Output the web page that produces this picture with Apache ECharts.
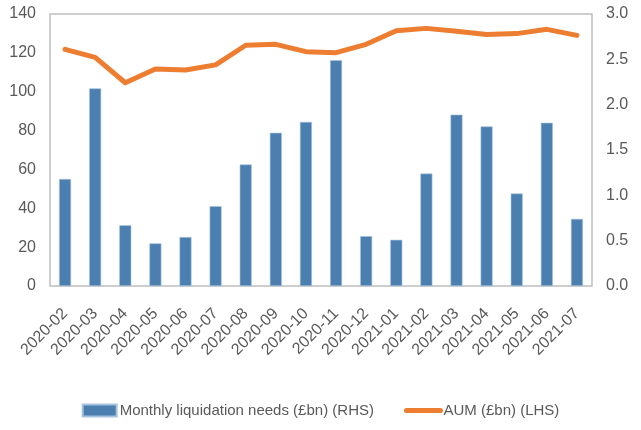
<!DOCTYPE html>
<html>
<head>
<meta charset="utf-8">
<script src="https://cdn.jsdelivr.net/npm/echarts@6/dist/echarts.min.js"></script>
<style>
  html, body { margin: 0; padding: 0; background: #fff; }
  #chart { width: 641px; height: 430px; }
</style>
</head>
<body>
<div id="chart"></div>
<script>
// months on the category axis
const months = [
  '2020-02', '2020-03', '2020-04', '2020-05', '2020-06', '2020-07', '2020-08', '2020-09', '2020-10',
  '2020-11', '2020-12', '2021-01', '2021-02', '2021-03', '2021-04', '2021-05', '2021-06', '2021-07'
];
// monthly liquidation needs, £bn (right axis)
const liquidationNeeds = [
  1.18, 2.18, 0.67, 0.47, 0.54, 0.88, 1.34, 1.69, 1.81,
  2.49, 0.55, 0.51, 1.24, 1.89, 1.76, 1.02, 1.80, 0.74
];
// AUM, £bn (left axis)
const aum = [
  121.8, 117.7, 104.6, 111.7, 111.2, 113.8, 123.9, 124.4, 120.6,
  120.1, 124.4, 131.4, 132.6, 131.1, 129.4, 129.9, 132.1, 129.0
];

const FONT = '"Liberation Sans Narrow", "Liberation Sans", sans-serif';
const GREY = '#595959';

const chart = echarts.init(document.getElementById('chart'));

chart.setOption({
  animation: false,
  grid: {
    left: 50,
    right: 49,
    top: 14,
    bottom: 144,
    show: true,
    borderColor: '#bfbfbf',
    borderWidth: 1.5
  },
  legend: {
    bottom: 7,
    left: 'center',
    itemWidth: 34,
    itemHeight: 12,
    itemGap: 30,
    textStyle: { fontFamily: FONT, fontSize: 15, color: GREY, padding: [0, 0, 0, -2] },
    data: [
      { name: 'Monthly liquidation needs (£bn) (RHS)', icon: 'rect' },
      // line only, no marker in the middle
      {
        name: 'AUM (£bn) (LHS)',
        itemStyle: { color: 'rgba(0,0,0,0)', borderWidth: 0 },
        lineStyle: { width: 5, cap: 'round' }
      }
    ]
  },
  xAxis: {
    type: 'category',
    data: months,
    axisLine: { show: false },
    axisTick: { show: false },
    axisLabel: {
      interval: 0,
      rotate: 45,
      margin: 25,
      fontFamily: FONT,
      fontSize: 16,
      color: GREY
    }
  },
  yAxis: [
    {
      type: 'value',
      min: 0,
      max: 140,
      interval: 20,
      splitLine: { show: false },
      axisLine: { show: false },
      axisTick: { show: false },
      axisLabel: { fontFamily: FONT, fontSize: 16, color: GREY, margin: 14 }
    },
    {
      type: 'value',
      position: 'right',
      min: 0,
      max: 3,
      interval: 0.5,
      splitLine: { show: false },
      axisLine: { show: false },
      axisTick: { show: false },
      axisLabel: {
        fontFamily: FONT,
        fontSize: 16,
        color: GREY,
        margin: 14,
        formatter: (v) => v.toFixed(1)
      }
    }
  ],
  series: [
    {
      name: 'Monthly liquidation needs (£bn) (RHS)',
      type: 'bar',
      yAxisIndex: 1,
      data: liquidationNeeds,
      barWidth: 12,
      itemStyle: { color: '#4a7fb0', borderColor: '#a8c3de', borderWidth: 0.6 }
    },
    {
      name: 'AUM (£bn) (LHS)',
      type: 'line',
      yAxisIndex: 0,
      data: aum,
      symbol: 'none',
      lineStyle: { color: '#ed7d31', width: 5, join: 'round', cap: 'round' },
      itemStyle: { color: '#ed7d31' }
    }
  ]
});
</script>
</body>
</html>
